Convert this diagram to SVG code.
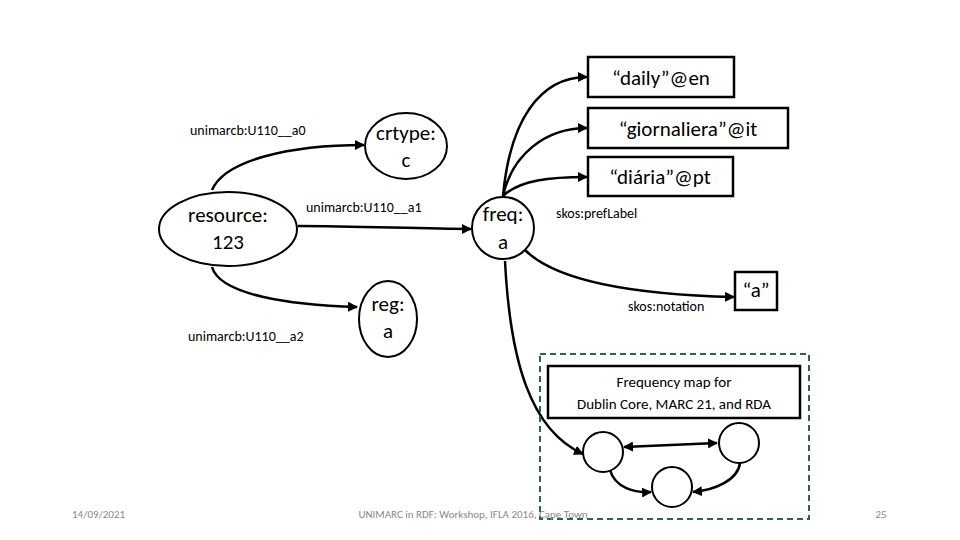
<svg xmlns="http://www.w3.org/2000/svg" width="960" height="540" viewBox="0 0 960 540">
<style>
.n{fill:#fff;stroke:#000;stroke-width:2}
.b{fill:#fff;stroke:#000;stroke-width:2.5}
.e{fill:none;stroke:#000;stroke-width:2.5;marker-end:url(#a)}
.t{font-family:Calibri,Carlito,"Liberation Sans",sans-serif;fill:#000}
.big{font-size:21px}
.lab{font-size:14px}
.ft{font-size:11px;fill:#888}
</style>
<defs>
<marker id="a" viewBox="0 0 10 10" refX="9" refY="5" markerWidth="4" markerHeight="4" orient="auto-start-reverse"><path d="M0,0L10,5L0,10z"/></marker>
</defs>
<rect width="960" height="540" fill="#fff"/>
<g id="connectors">
<path class="e" d="M212,190 C225,160 290,145 364,145"/>
<path class="e" d="M298,226 C360,226 420,229 471,229"/>
<path class="e" d="M212,267 C220,295 290,305 357,307"/>
<path class="e" d="M503,196 C510,120 540,77 587,77"/>
<path class="e" d="M503,196 C512,155 545,128 587,128"/>
<path class="e" d="M503,196 C520,180 550,177 587,177"/>
<path class="e" d="M525,250 C560,285 650,295 734,297"/>
<path class="e" d="M505,261 C510,360 530,430 583,454"/>
<path class="e" d="M624,447 L717,443" marker-start="url(#a)"/>
<path class="e" d="M610,470 C615,488 635,493 651,492"/>
<path class="e" d="M740,463 C738,480 715,490 693,492"/>
</g>
<g id="resource"><ellipse class="n" cx="228" cy="229" rx="69" ry="37"/><text class="t big" x="228" y="222" text-anchor="middle">resource:</text><text class="t big" x="228" y="249" text-anchor="middle">123</text></g>
<g id="crtype"><ellipse class="n" cx="406" cy="146" rx="41" ry="33"/><text class="t big" x="406" y="140" text-anchor="middle">crtype:</text><text class="t big" x="406" y="167" text-anchor="middle">c</text></g>
<g id="reg"><ellipse class="n" cx="388" cy="319" rx="29" ry="38"/><text class="t big" x="388" y="311" text-anchor="middle">reg:</text><text class="t big" x="388" y="338" text-anchor="middle">a</text></g>
<g id="freq"><circle class="n" cx="503" cy="228" r="31"/><text class="t big" x="503" y="221" text-anchor="middle">freq:</text><text class="t big" x="503" y="249" text-anchor="middle">a</text></g>
<g id="daily"><rect class="b" x="588" y="57" width="146" height="40"/><text class="t big" x="661" y="85" text-anchor="middle">“daily”@en</text></g>
<g id="giornaliera"><rect class="b" x="588" y="108" width="200" height="40"/><text class="t big" x="688" y="136" text-anchor="middle">“giornaliera”@it</text></g>
<g id="diaria"><rect class="b" x="588" y="157" width="145" height="39"/><text class="t big" x="660" y="184" text-anchor="middle">“diária”@pt</text></g>
<g id="notation"><rect class="b" x="735" y="272" width="42" height="38"/><text class="t big" x="756" y="297" text-anchor="middle">“a”</text></g>
<g id="labels">
<text class="t lab" x="190" y="135">unimarcb:U110__a0</text>
<text class="t lab" x="306" y="212">unimarcb:U110__a1</text>
<text class="t lab" x="188" y="341">unimarcb:U110__a2</text>
<text class="t lab" x="556" y="218">skos:prefLabel</text>
<text class="t lab" x="628" y="311">skos:notation</text>
</g>
<g id="freqmap">
<rect x="540" y="354" width="269" height="165" fill="none" stroke="#2f5f56" stroke-width="2" stroke-dasharray="6,4"/>
<rect class="b" x="548" y="366" width="252" height="52"/>
<text class="t" font-size="15" x="674" y="387" text-anchor="middle">Frequency map for</text>
<text class="t" font-size="15" x="674" y="409" text-anchor="middle">Dublin Core, MARC 21, and RDA</text>
</g>
<g id="c1"><circle class="n" cx="603" cy="452" r="20"/></g>
<g id="c2"><circle class="n" cx="739" cy="443" r="20"/></g>
<g id="c3"><circle class="n" cx="672" cy="487" r="20"/></g>
<g id="footer">
<text class="t ft" x="72" y="518">14/09/2021</text>
<text class="t ft" x="473" y="518" text-anchor="middle">UNIMARC in RDF: Workshop, IFLA 2016, Cape Town</text>
<text class="t ft" x="881" y="518" text-anchor="middle">25</text>
</g>
</svg>
